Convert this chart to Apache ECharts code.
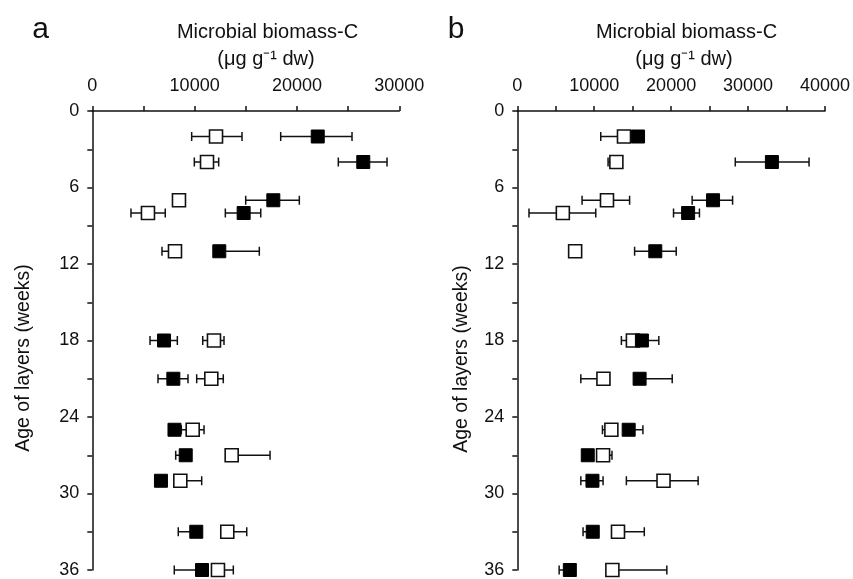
<!DOCTYPE html>
<html>
<head>
<meta charset="utf-8">
<script src="https://cdn.jsdelivr.net/npm/echarts@6/dist/echarts.min.js"></script>
<style>
html,body{margin:0;padding:0;background:#fff;}
#chart{width:853px;height:579px;}
</style>
</head>
<body>
<div id="chart"></div>
<script>
// Age of layers (weeks), shared by all series
const weeks = [2, 4, 7, 8, 11, 18, 21, 25, 27, 29, 33, 36];

// Panel a — open squares
const aOpen   = [12090, 11210, 8470, 5440, 8080, 11890, 11630, 9810, 13620, 8600, 13190, 12280];
const aOpenLo = [9710, 9970, 8470, 3780, 6810, 10790, 10200, 8700, 13620, 8600, 13190, 12280];
const aOpenHi = [14630, 12350, 8470, 7130, 8080, 12870, 12800, 10920, 17370, 10690, 15090, 13780];
// Panel a — filled squares
const aFill   = [22030, 26480, 17690, 14790, 12410, 7010, 7920, 8030, 9130, 6710, 10160, 10720];
const aFillLo = [18410, 24040, 14990, 13000, 12410, 5640, 6420, 8030, 8150, 6710, 8400, 8010];
const aFillHi = [25380, 28800, 20230, 16460, 16320, 8310, 9350, 8030, 9130, 6710, 10160, 10720];

// Panel b — open squares
const bOpen   = [13870, 12880, 11660, 5920, 7520, 15030, 11200, 12230, 11150, 19010, 13090, 12360];
const bOpenLo = [10850, 11800, 8420, 1520, 7520, 13530, 8260, 11070, 11150, 14180, 13090, 12360];
const bOpenHi = [13870, 12880, 14600, 10200, 7520, 15030, 11200, 12230, 12310, 23510, 16510, 19440];
// Panel b — filled squares
const bFill   = [15700, 33100, 25450, 22210, 17940, 16200, 15900, 14480, 9160, 9770, 9810, 6830];
const bFillLo = [15700, 28340, 22730, 20310, 15250, 16200, 15900, 14480, 9160, 8260, 8550, 5440];
const bFillHi = [15700, 37930, 27990, 23680, 20660, 18400, 20140, 16330, 9160, 11150, 9810, 6830];

// Tick labels
const xTickLabelsA = [0, 10000, 20000, 30000];
const xTickLabelsB = [0, 10000, 20000, 30000, 40000];
const yTickLabels = [0, 6, 12, 18, 24, 30, 36];

const FONT = '"Liberation Sans", Arial, Helvetica, sans-serif';
const INK = '#111';

function pts(vals) { return vals.map((v, i) => [v, weeks[i]]); }
function errs(lo, hi) { return lo.map((l, i) => [weeks[i], l, hi[i]]); }

function errRender(params, api) {
  const y = api.value(0), lo = api.value(1), hi = api.value(2);
  const p1 = api.coord([lo, y]), p2 = api.coord([hi, y]);
  const cap = 4.5;
  const st = { stroke: INK, lineWidth: 1.5 };
  return {
    type: 'group',
    children: [
      { type: 'line', shape: { x1: p1[0], y1: p1[1], x2: p2[0], y2: p2[1] }, style: st },
      { type: 'line', shape: { x1: p1[0], y1: p1[1] - cap, x2: p1[0], y2: p1[1] + cap }, style: st },
      { type: 'line', shape: { x1: p2[0], y1: p2[1] - cap, x2: p2[0], y2: p2[1] + cap }, style: st }
    ]
  };
}

function xAxis(idx, max, labels) {
  return {
    type: 'value', gridIndex: idx, position: 'top', min: 0, max: max, interval: 5000,
    axisLine: { show: true, lineStyle: { color: INK, width: 1.5 } },
    axisTick: { show: true, length: 5, lineStyle: { color: INK, width: 1.5 } },
    splitLine: { show: false },
    axisLabel: {
      margin: 16, color: INK, fontFamily: FONT, fontSize: 18,
      formatter: v => labels.includes(v) ? String(v) : ''
    }
  };
}
function yAxis(idx) {
  return {
    type: 'value', gridIndex: idx, inverse: true, min: 0, max: 36, interval: 3,
    axisLine: { show: true, lineStyle: { color: INK, width: 1.5 } },
    axisTick: { show: true, length: 5, lineStyle: { color: INK, width: 1.5 } },
    splitLine: { show: false },
    axisLabel: {
      margin: 13, color: INK, fontFamily: FONT, fontSize: 18,
      formatter: v => yTickLabels.includes(v) ? String(v) : ''
    }
  };
}

function scatter(idx, data, filled) {
  return {
    type: 'scatter', xAxisIndex: idx, yAxisIndex: idx, data: data,
    symbol: 'rect', symbolSize: 13, z: filled ? 4 : 3,
    itemStyle: filled
      ? { color: '#000', borderColor: '#000', borderWidth: 1, opacity: 1 }
      : { color: '#fff', borderColor: INK, borderWidth: 1.6, opacity: 1 }
  };
}
function errSeries(idx, data) {
  return {
    type: 'custom', xAxisIndex: idx, yAxisIndex: idx, data: data, z: 2,
    renderItem: errRender, encode: { x: [1, 2], y: 0 }
  };
}

function txt(x, y, text, size, rot) {
  return {
    type: 'text', x: x, y: y, rotation: rot || 0,
    style: { text: text, fill: INK, font: size + 'px ' + FONT, textAlign: 'center', textVerticalAlign: 'middle' }
  };
}

const chart = echarts.init(document.getElementById('chart'));
chart.setOption({
  animation: false,
  backgroundColor: '#fff',
  grid: [
    { left: 92.3, top: 111, width: 307, height: 461.7 },
    { left: 517.3, top: 111, width: 308.7, height: 461.7 }
  ],
  xAxis: [xAxis(0, 30000, xTickLabelsA), xAxis(1, 40000, xTickLabelsB)],
  yAxis: [yAxis(0), yAxis(1)],
  series: [
    errSeries(0, errs(aOpenLo, aOpenHi)),
    errSeries(0, errs(aFillLo, aFillHi)),
    scatter(0, pts(aOpen), false),
    scatter(0, pts(aFill), true),
    errSeries(1, errs(bOpenLo, bOpenHi)),
    errSeries(1, errs(bFillLo, bFillHi)),
    scatter(1, pts(bOpen), false),
    scatter(1, pts(bFill), true)
  ],
  graphic: [
    txt(40.5, 30, 'a', 30),
    txt(456, 30, 'b', 30),
    txt(267.5, 32, 'Microbial biomass-C', 20),
    txt(266, 59, '(μg g⁻¹ dw)', 20),
    txt(686.5, 32, 'Microbial biomass-C', 20),
    txt(684, 59, '(μg g⁻¹ dw)', 20),
    txt(24, 358, 'Age of layers (weeks)', 19.5, Math.PI / 2),
    txt(462, 359, 'Age of layers (weeks)', 19.5, Math.PI / 2)
  ]
});
</script>
</body>
</html>
